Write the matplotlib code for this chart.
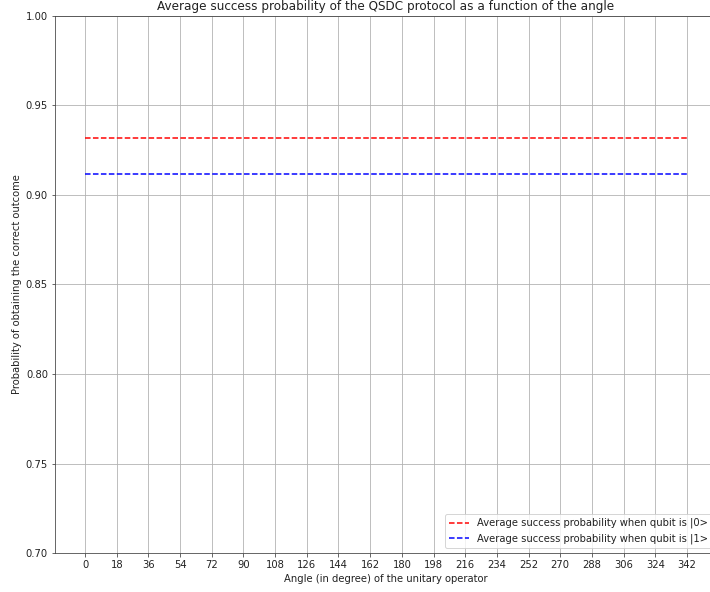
import matplotlib
matplotlib.use("Agg")
import matplotlib.pyplot as plt

# angles of the unitary operator (degrees)
angles = list(range(0, 360, 18))
# average success probabilities (constant over the angle)
prob_qubit0 = [0.932] * len(angles)
prob_qubit1 = [0.912] * len(angles)

labels = ["Average success probability when qubit is |0>",
          "Average success probability when qubit is |1>"]

plt.rcParams["text.color"] = "#222222"
plt.rcParams["axes.labelcolor"] = "#222222"
plt.rcParams["xtick.color"] = "#444444"
plt.rcParams["ytick.color"] = "#444444"
plt.rcParams["xtick.labelcolor"] = "#222222"
plt.rcParams["ytick.labelcolor"] = "#222222"
plt.rcParams["axes.edgecolor"] = "#444444"

fig = plt.figure(figsize=(710 / 72, 592 / 72), dpi=72)
ax = fig.add_axes([55 / 710, 39 / 592, 662 / 710, 537 / 592])

ax.plot(angles, prob_qubit0, "r--", label=labels[0])
ax.plot(angles, prob_qubit1, "b--", label=labels[1])

ax.set_xticks(angles)
ax.set_xlim(-17.1, 359.1)
ax.set_ylim(0.70, 1.00)
ax.grid(True)
ax.set_title("Average success probability of the QSDC protocol as a function of the angle")
ax.set_xlabel("Angle (in degree) of the unitary operator")
ax.set_ylabel("Probability of obtaining the correct outcome")
ax.legend(loc="lower right")

fig.savefig("out.png", dpi=72)
